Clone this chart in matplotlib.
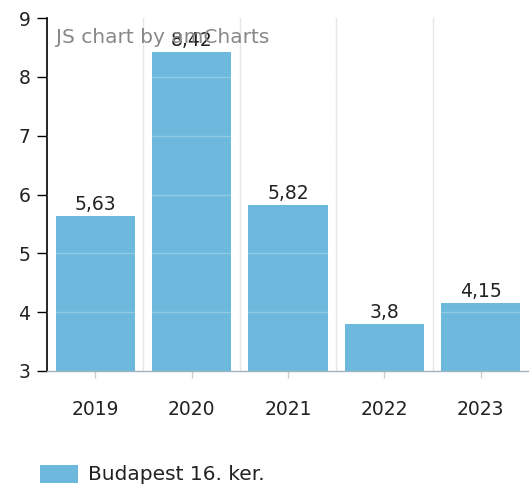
import matplotlib.pyplot as plt
from matplotlib.patches import Rectangle

years = ["2019", "2020", "2021", "2022", "2023"]
values = [5.63, 8.42, 5.82, 3.8, 4.15]
labels = ["5,63", "8,42", "5,82", "3,8", "4,15"]
series_name = "Budapest 16. ker."
yticks = [3, 4, 5, 6, 7, 8, 9]

bar_color = '#6cb9dd'
text_color = '#222222'
fs = 13.5

fig = plt.figure(figsize=(5.29, 4.88), dpi=100)
ax = fig.add_axes([47 / 529, 1 - 371 / 488, 482 / 529, 353 / 488])

x = range(len(years))
ax.bar(x, values, width=0.82, bottom=0, color=bar_color, zorder=2)
ax.set_xlim(-0.5, len(years) - 0.5)
ax.set_ylim(3, 9)

# vertical separators between categories
for b in range(1, len(years)):
    ax.axvline(b - 0.5, color='#e6e6e6', lw=1, zorder=1)
# horizontal grid shows only across bars
for t in yticks[1:-1]:
    ax.axhline(t, color='white', alpha=0.25, lw=1, zorder=3)

for xi, v, lab in zip(x, values, labels):
    ax.text(xi, v + 0.04, lab, ha='center', va='bottom', fontsize=fs, color=text_color, zorder=4)

ax.set_yticks(yticks)
ax.set_yticklabels([str(t) for t in yticks], fontsize=fs, color=text_color)
ax.set_xticks(list(x))
ax.set_xticklabels(years, fontsize=fs, color=text_color)
ax.tick_params(axis='y', length=7, width=1, color='black', pad=5)
ax.tick_params(axis='x', length=5, width=1, color='#cccccc', pad=16)

for s in ['top', 'right']:
    ax.spines[s].set_visible(False)
ax.spines['left'].set_color('black')
ax.spines['left'].set_linewidth(1.2)
ax.spines['bottom'].set_color('#9fb3c0')
ax.spines['bottom'].set_linewidth(1)

# watermark
ax.text(0.018, 0.945, "JS chart by amCharts", transform=ax.transAxes, fontsize=14.5,
        color='#888888', ha='left', va='center', zorder=5)

# legend
fig.patches.append(Rectangle((40 / 529, 1 - 483 / 488), 38 / 529, 18 / 488,
                             transform=fig.transFigure, facecolor=bar_color, edgecolor='none'))
fig.text(88 / 529, 1 - 475 / 488, series_name, fontsize=14.5, color=text_color, ha='left', va='center')

fig.savefig("out.png", dpi=100)
